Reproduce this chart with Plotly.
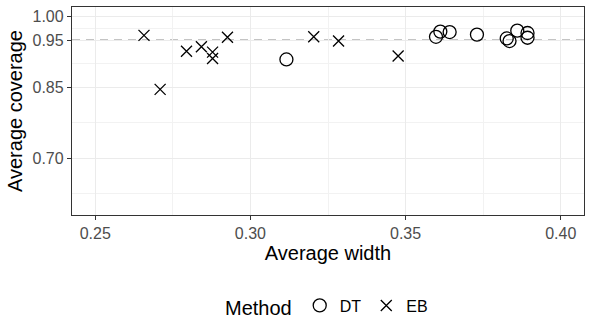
import plotly.graph_objects as go

# Data
dt_width = [0.3116, 0.3598, 0.3612, 0.3642, 0.3730, 0.3826, 0.3835, 0.3860, 0.3893, 0.3893]
dt_coverage = [0.909, 0.957, 0.968, 0.967, 0.9616, 0.9535, 0.948, 0.970, 0.965, 0.955]
eb_width = [0.2657, 0.2709, 0.2794, 0.2842, 0.2878, 0.2878, 0.2926, 0.3204, 0.3284, 0.3476]
eb_coverage = [0.960, 0.8457, 0.9265, 0.936, 0.9245, 0.911, 0.956, 0.957, 0.948, 0.9165]

x_ticks = [0.25, 0.30, 0.35, 0.40]
x_minor = [0.275, 0.325, 0.375]
y_ticks = [0.70, 0.85, 0.95, 1.00]
y_minor = [0.625, 0.775, 0.90, 0.975]
target = 0.95

FONT = "Liberation Sans"

fig = go.Figure()
fig.add_trace(go.Scatter(
    x=dt_width, y=dt_coverage, mode="markers", name="DT",
    marker=dict(symbol="circle-open", size=13, color="black", line=dict(width=1.3, color="black")),
))
fig.add_trace(go.Scatter(
    x=eb_width, y=eb_coverage, mode="markers", name="EB",
    marker=dict(symbol="x-thin-open", size=11, color="black", line=dict(width=1.3, color="black")),
))

fig.add_shape(
    type="line", xref="paper", x0=0, x1=1, yref="y", y0=target, y1=target,
    line=dict(color="#8a8a8a", width=1.3, dash="8px,6px"), layer="below",
)

axis_common = dict(
    showgrid=True, gridcolor="#EBEBEB", gridwidth=1.4,
    showline=True, linecolor="#333333", linewidth=1.3, mirror=True,
    ticks="outside", tickcolor="#333333", ticklen=4, tickwidth=1.3,
    tickfont=dict(family=FONT, size=16, color="#4D4D4D"),
    zeroline=False,
)

fig.update_xaxes(
    range=[0.2425, 0.4075], tickvals=x_ticks, ticktext=[f"{v:.2f}" for v in x_ticks],
    minor=dict(tickvals=x_minor, showgrid=True, gridcolor="#F2F2F2", gridwidth=0.8, ticks=""),
    title=dict(text="Average width", font=dict(family=FONT, size=20, color="black"), standoff=4),
    **axis_common,
)
fig.update_yaxes(
    range=[0.58, 1.02], tickvals=y_ticks, ticktext=[f"{v:.2f}" for v in y_ticks],
    minor=dict(tickvals=y_minor, showgrid=True, gridcolor="#F2F2F2", gridwidth=0.8, ticks=""),
    title=dict(text="Average coverage", font=dict(family=FONT, size=20, color="black"), standoff=4),
    **axis_common,
)

fig.update_layout(
    width=589, height=330,
    margin=dict(l=72, r=5, t=7, b=106),
    paper_bgcolor="white", plot_bgcolor="white",
    font=dict(family=FONT, color="black"),
    showlegend=True,
    legend=dict(
        orientation="h", x=0.5, xanchor="center", y=-0.44, yanchor="middle",
        title=dict(text="Method", font=dict(family=FONT, size=20, color="black"), side="left"),
        font=dict(family=FONT, size=16, color="black"),
        bgcolor="rgba(0,0,0,0)",
    ),
)

fig.write_html("out.html")
